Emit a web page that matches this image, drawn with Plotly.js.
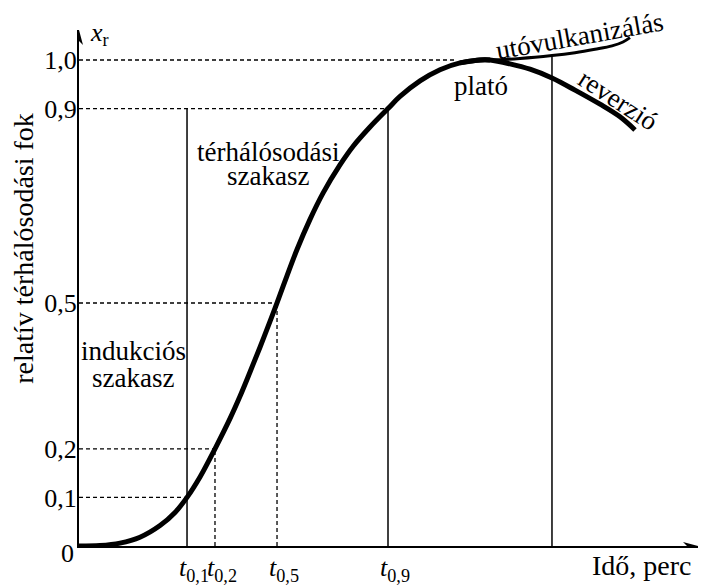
<!DOCTYPE html>
<html><head><meta charset="utf-8">
<script src="https://cdn.plot.ly/plotly-3.0.1.min.js"></script>
<style>
html,body{margin:0;padding:0;background:#fff}
#chart text{font-family:"Liberation Serif",serif !important}
</style>
</head><body>
<div id="chart" style="width:709px;height:586px"></div>
<script>
// ---- data (time in arbitrary units, x_r = relative degree) ----
const curveTime  = [0, 3.39, 6.62, 9.85, 13.09, 15.51, 17.45, 19.55, 21.97, 24.39, 26.01, 27.63, 29.24, 30.86, 31.99, 33.60, 35.22, 37.32, 39.42, 42.16, 44.26, 47.01, 49.92, 51.86, 55.09, 58.32, 61.55, 64.78, 66.40];
const curveValue = [0, 0.001, 0.006, 0.018, 0.042, 0.069, 0.10, 0.142, 0.20, 0.262, 0.308, 0.358, 0.409, 0.462, 0.50, 0.556, 0.61, 0.672, 0.726, 0.784, 0.822, 0.862, 0.90, 0.925, 0.957, 0.98, 0.994, 1.0, 1.0];

const postTime  = [61.55, 64.78, 66.40, 71.24, 76.41, 80.13, 83.36, 86.11, 87.88, 89.01];
const postValue = [0.994, 1.0, 1.0, 1.003, 1.009, 1.015, 1.022, 1.029, 1.037, 1.046];

const revTime  = [61.55, 64.78, 66.40, 69.63, 72.86, 76.41, 80.13, 84.17, 87.40, 89.82];
const revValue = [0.994, 1.0, 1.0, 0.992, 0.981, 0.963, 0.938, 0.909, 0.883, 0.856];

const levels      = [0.1, 0.2, 0.5, 0.9, 1.0];
const levelLabels = ['0,1', '0,2', '0,5', '0,9', '1,0'];
const levelTimes  = [17.45, 21.97, 31.99, 49.92, 61.07];   // time where the curve reaches each level
const tNames      = ['0,1', '0,2', '0,5', '0,9'];
const endTime = 76.41, endValue = 1.009;                  // end-of-plateau marker line

const xMax = 100, yMax = 1.0617;

// ---- build line sets ----
const hx = [], hy = [];
levels.forEach((v, i) => { hx.push(0, levelTimes[i], null); hy.push(v, v, null); });
const dvx = [levelTimes[1], levelTimes[1], null, levelTimes[2], levelTimes[2]];
const dvy = [0, levels[1], null, 0, levels[2]];
const svx = [levelTimes[0], levelTimes[0], null, levelTimes[3], levelTimes[3], null, endTime, endTime];
const svy = [0, levels[3], null, 0, levels[3], null, 0, endValue];

const black = '#000';
const dash = '4px,3px';
const traces = [
  {x: hx, y: hy, mode: 'lines', line: {color: black, width: 1.3, dash: dash}, hoverinfo: 'skip'},
  {x: dvx, y: dvy, mode: 'lines', line: {color: black, width: 1.3, dash: dash}, hoverinfo: 'skip'},
  {x: svx, y: svy, mode: 'lines', line: {color: black, width: 1.5}, hoverinfo: 'skip'},
  {x: postTime, y: postValue, mode: 'lines', line: {color: black, width: 3, shape: 'spline'}},
  {x: curveTime, y: curveValue, mode: 'lines', line: {color: black, width: 5, shape: 'spline'}},
  {x: revTime, y: revValue, mode: 'lines', line: {color: black, width: 5, shape: 'spline'}}
];

const serif = 'Liberation Serif';
const txt = (text, x, y, opts) => Object.assign({text: text, x: x, y: y, xref: 'x', yref: 'y', showarrow: false,
  font: {family: serif, size: 27, color: black}, xanchor: 'center', yanchor: 'middle'}, opts || {});

const annotations = [
  txt('0', 0, 0, {xanchor: 'right', xshift: -3, yshift: -7, font: {family: serif, size: 26, color: black}}),
  txt('<i>x</i><sub>r</sub>', 1.45, 1.053, {xanchor: 'left', font: {family: serif, size: 26, color: black}}),
  txt('indukciós', 8.8, 0.402),
  txt('szakasz', 8.8, 0.345),
  txt('térhálósodási', 30.5, 0.81),
  txt('szakasz', 30.5, 0.761),
  txt('plató', 64.9, 0.946),
  txt('utóvulkanizálás', 80.9, 1.049, {textangle: -10}),
  txt('reverzió', 87.1, 0.918, {textangle: 33}),
  txt('relatív térhálósodási fok', -0.0889, 0.578, {xref: 'paper', yref: 'paper', textangle: -90, font: {family: serif, size: 28, color: black}}),
  txt('Idő, perc', 0.910, -0.037, {xref: 'paper', yref: 'paper', font: {family: serif, size: 28, color: black}})
];

const shapes = [
  {type: 'path', xref: 'x', yref: 'y', xsizemode: 'pixel', ysizemode: 'pixel', xanchor: xMax, yanchor: 0,
   path: 'M0,0 L-15,4 L-11,0 L-15,-4 Z', fillcolor: black, line: {width: 0}},
  {type: 'path', xref: 'x', yref: 'y', xsizemode: 'pixel', ysizemode: 'pixel', xanchor: 0, yanchor: yMax,
   path: 'M0,0 L-4,-15 L0,-11 L4,-15 Z', fillcolor: black, line: {width: 0}}
];

const layout = {
  width: 709, height: 586,
  margin: {l: 79, r: 11, t: 30, b: 40, pad: 0},
  paper_bgcolor: '#fff', plot_bgcolor: '#fff',
  showlegend: false,
  font: {family: serif, size: 26, color: black},
  xaxis: {range: [0, xMax], showgrid: false, zeroline: false, showline: true, linewidth: 2, linecolor: black,
          ticks: '', tickvals: levelTimes.slice(0, 4), ticktext: tNames.map(n => '<i>t</i><sub>' + n + '</sub>'),
          tickangle: 0, ticklabelshift: 7, ticklabelstandoff: -3, tickfont: {family: serif, size: 26, color: black}},
  yaxis: {range: [0, yMax], showgrid: false, zeroline: false, showline: true, linewidth: 2, linecolor: black,
          ticks: '', tickvals: levels, ticktext: levelLabels, ticklabelstandoff: -5, tickfont: {family: serif, size: 26, color: black}},
  shapes: shapes,
  annotations: annotations
};

Plotly.newPlot('chart', traces, layout, {displayModeBar: false});
</script>
</body></html>
